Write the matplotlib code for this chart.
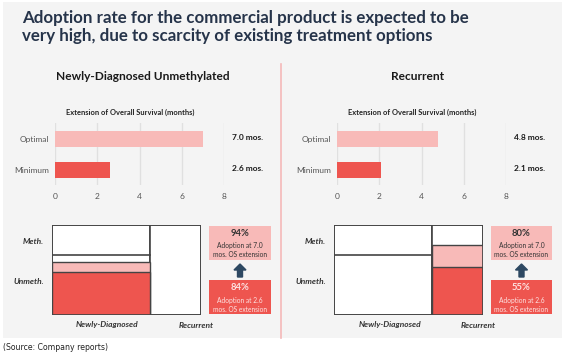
import matplotlib
matplotlib.use("Agg")
import matplotlib.pyplot as plt
from matplotlib.patches import Rectangle, FancyArrow

# ---------------- data ----------------
title_text = ("Adoption rate for the commercial product is expected to be\n"
              "very high, due to scarcity of existing treatment options")
panel_titles = ["Newly-Diagnosed Unmethylated", "Recurrent"]
bar_subtitle = "Extension of Overall Survival (months)"
bar_categories = ["Minimum", "Optimal"]
nd_os_months = [2.6, 7.0]
rec_os_months = [2.1, 4.8]
os_labels_nd = ["2.6 mos.", "7.0 mos."]
os_labels_rec = ["2.1 mos.", "4.8 mos."]
x_ticks = [0, 2, 4, 6, 8]

mosaic_columns = ["Newly-Diagnosed", "Recurrent"]
mosaic_col_widths = [0.66, 0.34]
mosaic_rows = ["Meth.", "Unmeth."]
nd_unmeth_share = 0.663
# filled heights (share of column): [optimal, minimum]
left_fill_col = 0
left_fill = [0.589, 0.478]
right_fill_col = 1
right_fill = [0.778, 0.533]
adoption_nd = ["94%", "84%"]
adoption_rec = ["80%", "55%"]
adopt_sub = ["Adoption at 7.0\nmos. OS extension", "Adoption at 2.6\nmos. OS extension"]
source_text = "(Source: Company reports)"

# ---------------- style ----------------
PINK = "#f8bab8"
RED = "#ee554f"
NAVY = "#26344a"
BG = "#f4f4f4"
GRID = "#e0e0e0"
EDGE = "#444444"
W, H = 569, 356
FONT = "Lato"

fig = plt.figure(figsize=(W / 100, H / 100), dpi=100)
fig.patch.set_facecolor("white")


def rect(x0, y0, x1, y1):
    """pixel box (top-left origin) -> figure fraction [l, b, w, h]"""
    return [x0 / W, 1 - y1 / H, (x1 - x0) / W, (y1 - y0) / H]


canvas = fig.add_axes([0, 0, 1, 1])
canvas.set_xlim(0, W)
canvas.set_ylim(H, 0)
canvas.axis("off")
canvas.add_patch(Rectangle((3, 2), 559, 336, facecolor=BG, edgecolor="none"))
canvas.plot([281, 281], [64, 338], color="#f4b8b8", lw=1.2)

canvas.text(22, 27, title_text, fontsize=12.2, fontweight="bold", color=NAVY,
            family=FONT, va="center", ha="left", linespacing=1.22)
canvas.text(3, 347, source_text, fontsize=5.6, color="#222222",
            family="DejaVu Sans", va="center", ha="left")

panels = [
    dict(cx=143, sub_cx=130, bar=(55, 224), mos=(52, 201), lab_r=44,
         os=nd_os_months, oslab=os_labels_nd, fill_col=left_fill_col,
         fill=left_fill, adopt=adoption_nd, box=(209, 271),
         col_lab_x=[107, 196]),
    dict(cx=418, sub_cx=412, bar=(337, 506), mos=(334, 483), lab_r=326,
         os=rec_os_months, oslab=os_labels_rec, fill_col=right_fill_col,
         fill=right_fill, adopt=adoption_rec, box=(491, 552),
         col_lab_x=[390, 478]),
]

for i, p in enumerate(panels):
    canvas.text(p["cx"], 77, panel_titles[i], fontsize=8.6, fontweight="bold",
                color="#1a1a1a", family=FONT, ha="center", va="center")
    canvas.text(p["sub_cx"], 112, bar_subtitle, fontsize=5.4, fontweight="bold",
                color="#222222", family=FONT, ha="center", va="center")

    # ---- bar chart ----
    ax = fig.add_axes(rect(p["bar"][0], 123, p["bar"][1], 185))
    ax.set_facecolor("none")
    ax.set_xlim(0, 8)
    ax.set_ylim(-0.48, 1.52)
    ax.barh([0, 1], p["os"], height=0.52, color=[RED, PINK], zorder=3)
    ax.set_xticks(x_ticks)
    ax.set_xticklabels([str(t) for t in x_ticks])
    ax.set_yticks([0, 1])
    ax.set_yticklabels(bar_categories)
    ax.grid(axis="x", color=GRID, lw=1.0, zorder=0)
    for s in ax.spines.values():
        s.set_visible(False)
    ax.tick_params(length=0, labelsize=6, labelcolor="#555555", pad=4)
    ax.tick_params(axis="x", pad=6)
    for lab in ax.get_xticklabels() + ax.get_yticklabels():
        lab.set_family(FONT)
    for yv, txt in zip([0, 1], p["oslab"]):
        ax.text(8.38, yv + 0.05, txt, fontsize=6, fontweight="bold",
                color="#1a1a1a", family=FONT, ha="left", va="center",
                clip_on=False)

    # ---- mosaic ----
    mx = fig.add_axes(rect(p["mos"][0], 225, p["mos"][1], 315))
    mx.set_xlim(0, 1)
    mx.set_ylim(0, 1)
    mx.axis("off")
    x0 = 0
    lefts = []
    for w in mosaic_col_widths:
        lefts.append(x0)
        mx.add_patch(Rectangle((x0, 0), w, 1, facecolor="white",
                               edgecolor=EDGE, lw=1.2, zorder=1))
        x0 += w
    # meth / unmeth boundary in newly diagnosed column
    mx.plot([lefts[0], lefts[0] + mosaic_col_widths[0]],
            [nd_unmeth_share, nd_unmeth_share], color=EDGE, lw=1.2, zorder=2)
    c = p["fill_col"]
    mx.add_patch(Rectangle((lefts[c], 0), mosaic_col_widths[c], p["fill"][0],
                           facecolor=PINK, edgecolor=EDGE, lw=1.0, zorder=3))
    mx.add_patch(Rectangle((lefts[c], 0), mosaic_col_widths[c], p["fill"][1],
                           facecolor=RED, edgecolor=EDGE, lw=1.0, zorder=4))
    mx.add_patch(Rectangle((0, 0), 1, 1, facecolor="none",
                           edgecolor=EDGE, lw=1.2, zorder=5))

    canvas.text(p["lab_r"], 242, mosaic_rows[0], fontsize=6, style="italic",
                fontweight="bold", color="#333333", family=FONT,
                ha="right", va="center")
    canvas.text(p["lab_r"], 282, mosaic_rows[1], fontsize=6, style="italic",
                fontweight="bold", color="#333333", family=FONT,
                ha="right", va="center")
    for cx, name in zip(p["col_lab_x"], mosaic_columns):
        canvas.text(cx, 325, name, fontsize=6, style="italic",
                    fontweight="bold", color="#333333", family=FONT,
                    ha="center", va="center")

    # ---- adoption boxes ----
    bx0, bx1 = p["box"]
    bcx = (bx0 + bx1) / 2
    canvas.add_patch(Rectangle((bx0, 226), bx1 - bx0, 34, facecolor=PINK,
                               edgecolor="none"))
    canvas.add_patch(Rectangle((bx0, 280), bx1 - bx0, 34, facecolor=RED,
                               edgecolor="none"))
    canvas.text(bcx, 234, p["adopt"][0], fontsize=6.8, fontweight="bold",
                color="#333333", family=FONT, ha="center", va="center")
    canvas.text(bcx, 250, adopt_sub[0], fontsize=4.8, color="#333333",
                family=FONT, ha="center", va="center", linespacing=1.25)
    canvas.text(bcx, 288, p["adopt"][1], fontsize=6.8, fontweight="bold",
                color="#fde3e2", family=FONT, ha="center", va="center")
    canvas.text(bcx, 305, adopt_sub[1], fontsize=4.8, color="#fde3e2",
                family=FONT, ha="center", va="center", linespacing=1.25)
    canvas.add_patch(FancyArrow(bcx, 277, 0, -13, width=5, head_width=12,
                                head_length=6, length_includes_head=True,
                                color="#2d4862"))

fig.savefig("out.png", dpi=100, facecolor=fig.get_facecolor())
